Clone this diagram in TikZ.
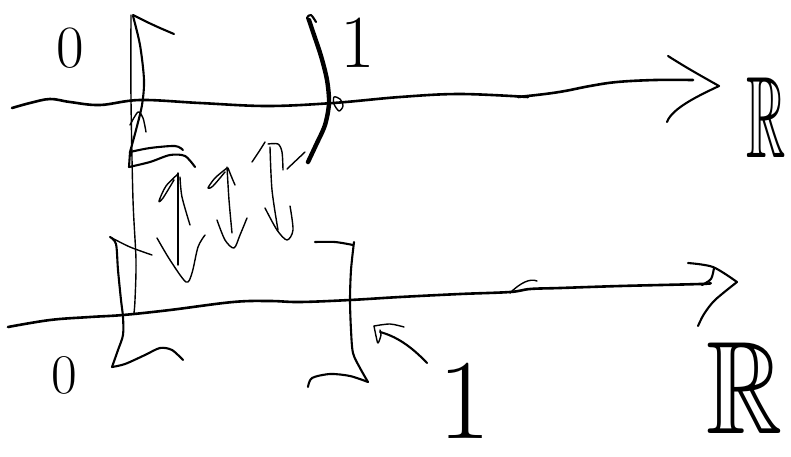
\documentclass[tikz,border=0pt]{standalone}
\usepackage{amssymb}
\begin{document}
\begin{tikzpicture}[x=1pt,y=-1pt,
  axis/.style={line width=2.6pt,line cap=round,line join=round},
  pen/.style={line width=2.1pt,line cap=round,line join=round},
  fine/.style={line width=1.4pt,line cap=round,line join=round},
  heavy/.style={line width=4.4pt,line cap=round,line join=round},
  lbl/.style={inner sep=0pt}]
\useasboundingbox (0,0) rectangle (791,456);

% ---- upper real line
\draw[axis] plot[smooth,tension=0.6] coordinates {(12,108) (30,103) (50,99) (70,102) (100,105) (140,100) (200,103) (267,106) (333,103) (400,97) (460,94) (528,97)};
\draw[axis] plot[smooth,tension=0.6] coordinates {(518,97) (545,94) (565,91) (590,86) (617,82) (655,80) (693,80)};
\draw[pen] (668,56) .. controls (690,70) and (705,78) .. (719,86) .. controls (700,95) and (672,108) .. (667,122);
\node[lbl,anchor=base west,xscale=0.47,font=\fontsize{116}{116}\selectfont] (R1) at (746,157) {$\mathbb{R}$};

% ---- lower real line
\draw[axis] plot[smooth,tension=0.6] coordinates {(8,327) (50,320) (90,317) (123,315) (170,310) (233,302) (270,301) (300,302) (350,300) (400,297) (460,294) (510,292) (530,289) (560,288) (620,286) (700,284) (710,283)};
\draw[pen] plot[smooth] coordinates {(688,263) (713,267) (737,282)};
\draw[pen] plot[smooth] coordinates {(737,282) (715,300) (704,314) (698,326)};
\draw[pen] plot[smooth] coordinates {(702,285) (711,279) (714,268)};
\draw[fine] (510,293) .. controls (520,283) and (530,278) .. (537,281);
\node[lbl,anchor=base west,xscale=0.8,font=\fontsize{132}{132}\selectfont] (R2) at (706,433) {$\mathbb{R}$};

% ---- end point labels
\node[lbl,font=\fontsize{60}{60}\selectfont] (zeroA) at (70,48) {0};
\node[lbl,font=\fontsize{75}{75}\selectfont] (oneA) at (358,43) {1};
\node[lbl,font=\fontsize{56}{56}\selectfont] (zeroB) at (64,375) {0};
\node[lbl,font=\fontsize{114}{114}\selectfont] (oneB) at (465,401) {1};

% ---- upper interval: left bracket
\draw[fine] plot[smooth] coordinates {(131,15) (131,100) (133,200) (136,260) (135,300) (134,313)};
\draw[pen] plot[smooth] coordinates {(133,15) (147,22) (160,28) (174,34)};
\draw[pen] plot[smooth] coordinates {(133,16) (140,45) (144,80) (142,105) (136,130) (130,152)};
\draw[pen] plot[smooth] coordinates {(130,152) (150,148) (175,146) (183,150)};
\draw[pen] (130,152) -- (129,167);
\draw[pen] plot[smooth] coordinates {(129,167) (150,162) (170,155) (185,156) (195,167)};
\draw[fine] plot[smooth] coordinates {(130,125) (138,112) (143,118) (146,132)};

% ---- upper interval: right end
\draw[heavy] plot[smooth] coordinates {(309,20) (313,32) (321,56) (327,80) (329,103) (325,125) (316,145) (308,162)};
\draw[pen] plot[smooth] coordinates {(312,26) (307,18) (311,15) (316,22)};
\draw[fine] plot[smooth cycle] coordinates {(334,97) (340,99) (343,106) (339,111) (334,104)};
\draw[fine] (305,152) -- (287,169);

% ---- arrows between the two lines
\draw[fine] plot[smooth] coordinates {(178,173) (178,220) (178,265)};
\draw[fine] plot[smooth] coordinates {(178,174) (166,186) (159,201) (163,198) (174,180)};
\draw[fine] plot[smooth] coordinates {(180,177) (182,197) (190,225)};
\draw[fine] plot[smooth] coordinates {(157,238) (170,260) (186,282) (192,273) (198,247) (205,235)};

\draw[fine] plot[smooth] coordinates {(227,167) (229,200) (232,233)};
\draw[fine] plot[smooth] coordinates {(227,168) (215,178) (208,188) (213,186) (225,172)};
\draw[fine] plot[smooth] coordinates {(228,168) (232,178) (235,185)};
\draw[fine] plot[smooth] coordinates {(217,220) (225,240) (234,248) (240,235) (247,218)};

\draw[fine] plot[smooth] coordinates {(270,147) (272,190) (278,230)};
\draw[fine] plot[smooth] coordinates {(252,162) (260,150) (265,142)};
\draw[fine] plot[smooth] coordinates {(268,144) (278,144) (282,152) (283,170)};
\draw[fine] plot[smooth] coordinates {(265,208) (277,230) (287,240) (293,230) (290,206)};

% ---- lower interval: left bracket
\draw[pen] plot[smooth] coordinates {(110,237) (116,244) (118,270) (121,300) (123,317) (123,335) (118,350) (112,367)};
\draw[pen] plot[smooth] coordinates {(112,367) (125,364) (145,355) (160,348) (172,350) (183,360)};
\draw[fine] plot[smooth] coordinates {(112,238) (130,247) (152,255)};

% ---- lower interval: right bracket
\draw[pen] plot[smooth] coordinates {(315,242) (335,242) (353,245)};
\draw[pen] plot[smooth] coordinates {(354,242) (351,270) (350,300) (351,330) (353,353) (360,368) (368,382)};
\draw[pen] plot[smooth] coordinates {(308,387) (312,378) (330,374) (350,376) (368,382)};

% ---- pointer from the lower 1 to the bracket
\coordinate (ptr) at (380,332);
\draw[pen] (427,363) .. controls (410,345) and (395,336) .. (ptr);
\draw[fine] plot[smooth] coordinates {(404,327) (390,324) (374,326)};
\draw[fine] plot[smooth] coordinates {(374,326) (376,336) (378,343) (381,335) (380,330)};
\end{tikzpicture}
\end{document}
